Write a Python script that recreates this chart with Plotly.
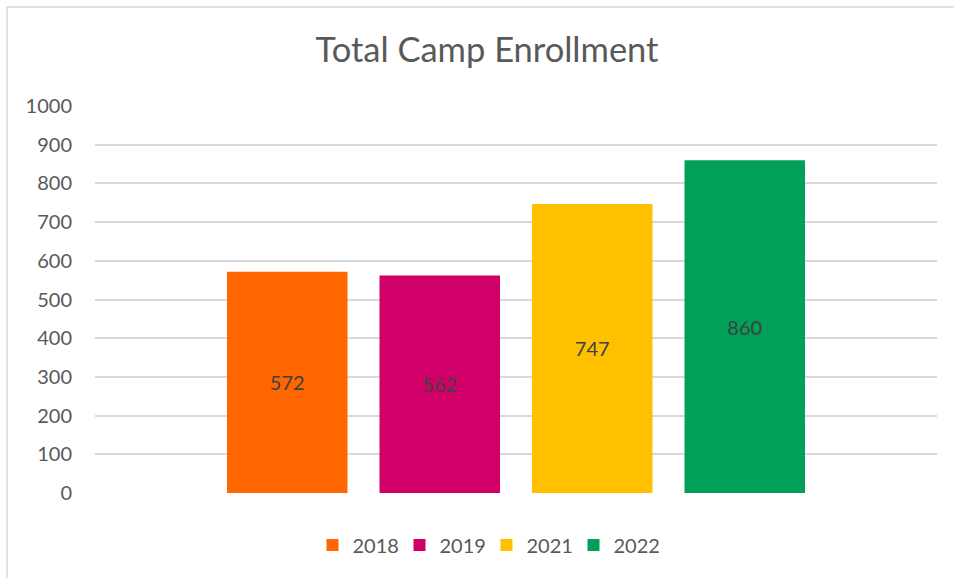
import plotly.graph_objects as go

years = ["2018", "2019", "2021", "2022"]
enrollment = [572, 562, 747, 860]
colors = ["#FF6600", "#D10068", "#FFC000", "#00A05A"]
category = [""]
y_ticks = [0, 100, 200, 300, 400, 500, 600, 700, 800, 900, 1000]

FONT = "Lato"
fig = go.Figure()
for yr, val, col in zip(years, enrollment, colors):
    fig.add_trace(go.Bar(
        x=category, y=[val], name=yr,
        marker=dict(color=col, line=dict(width=0)),
        text=[str(val)], textposition="inside", insidetextanchor="middle",
        textfont=dict(family=FONT, size=20, color="#404040"),
        textangle=0,
    ))

W, H = 954, 578
L, T, R, B = 95, 106, 17, 85
pw, ph = W - L - R, H - T - B

def px_x(x):  # page pixel -> paper
    return (x - L) / pw

def px_y(y):
    return (H - B - y) / ph

fig.update_layout(
    width=W, height=H,
    margin=dict(l=L, r=R, t=T, b=B),
    paper_bgcolor="white", plot_bgcolor="white",
    barmode="group", bargap=0.2755, bargroupgap=0.21,
    title=dict(text="Total Camp Enrollment", x=487 / W, xanchor="center",
               y=1 - 50 / H, yanchor="middle",
               font=dict(family=FONT, size=34.5, color="#595959")),
    font=dict(family=FONT, color="#595959"),
    showlegend=True,
    legend=dict(orientation="h", x=px_x(486.5), xanchor="center",
                y=px_y(545), yanchor="middle",
                entrywidth=42, entrywidthmode="pixels",
                font=dict(family=FONT, size=20, color="#595959"),
                traceorder="normal", itemclick=False),
    uniformtext=dict(minsize=20, mode="show"),
    shapes=[dict(type="rect", xref="paper", yref="paper",
                 x0=px_x(7), x1=px_x(964),
                 y0=px_y(590), y1=px_y(7),
                 line=dict(color="#D9D9D9", width=1.5), fillcolor="rgba(0,0,0,0)",
                 layer="below")],
)
fig.update_xaxes(type="category", range=[-0.5, 0.5], showticklabels=False,
                 showgrid=False, zeroline=False, showline=False, ticks="")
fig.update_yaxes(range=[0, 1000], tickvals=y_ticks, showgrid=True,
                 gridcolor="#D9D9D9", gridwidth=1.5, zeroline=False,
                 showline=False, ticks="", ticklabelstandoff=22,
                 tickfont=dict(family=FONT, size=20, color="#595959"))

fig.write_html(
    "out.html",
    config={"displayModeBar": False},
    post_script="document.body.style.margin='0';document.body.style.overflow='hidden';",
)
